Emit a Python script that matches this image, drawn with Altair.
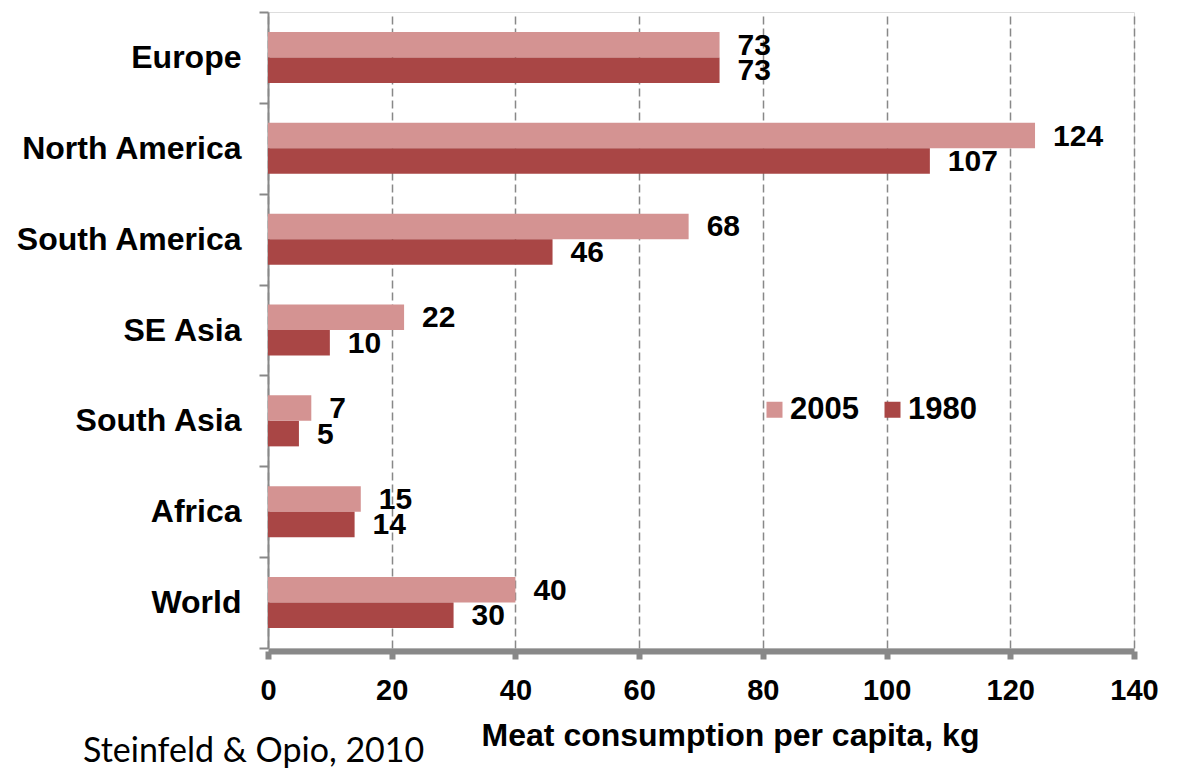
import altair as alt
import pandas as pd

# Meat consumption per capita (kg), by region
regions = ["Europe", "North America", "South America", "SE Asia",
           "South Asia", "Africa", "World"]
kg_2005 = [73, 124, 68, 22, 7, 15, 40]
kg_1980 = [73, 107, 46, 10, 5, 14, 30]
years = ["2005", "1980"]
year_colors = ["#D49392", "#A94645"]
x_ticks = [0, 20, 40, 60, 80, 100, 120, 140]

rows = []
for r, a, b in zip(regions, kg_2005, kg_1980):
    rows.append({"region": r, "year": "2005", "kg": a})
    rows.append({"region": r, "year": "1980", "kg": b})
df = pd.DataFrame(rows)

BOLD = "Liberation Sans"

y_enc = alt.Y(
    "region:N",
    sort=regions,
    scale=alt.Scale(paddingInner=0, paddingOuter=0),
    axis=alt.Axis(
        title=None,
        tickBand="extent",
        domainColor="#888888",
        domainWidth=2,
        tickColor="#888888",
        tickWidth=2,
        tickSize=9,
        labelFont=BOLD,
        labelFontSize=32,
        labelFontWeight="bold",
        labelColor="black",
        labelPadding=18,
        labelLimit=400,
        grid=False,
    ),
)
yoff_enc = alt.YOffset(
    "year:N",
    sort=years,
    scale=alt.Scale(domain=years, paddingInner=0, paddingOuter=0.78),
)
x_enc = alt.X(
    "kg:Q",
    scale=alt.Scale(domain=[0, 140], nice=False),
    axis=alt.Axis(
        values=x_ticks,
        title="Meat consumption per capita, kg",
        titleFont=BOLD,
        titleFontSize=32,
        titleFontWeight="bold",
        titleColor="black",
        titleX=462,
        titleY=94,
        titleAlign="center",
        titleBaseline="alphabetic",
        labelFont=BOLD,
        labelFontSize=29,
        labelFontWeight="bold",
        labelColor="black",
        labelPadding=17,
        labelFlush=False,
        labelOverlap=False,
        domainColor="#888888",
        domainWidth=6,
        tickColor="#888888",
        tickWidth=6,
        tickSize=8,
        offset=3,
        grid=True,
        gridColor="#888888",
        gridDash=[8, 4],
        gridWidth=1.5,
    ),
)

bars = alt.Chart(df).mark_bar(size=25.5, strokeWidth=0).encode(
    y=y_enc,
    yOffset=yoff_enc,
    x=x_enc,
    color=alt.Color(
        "year:N",
        sort=years,
        scale=alt.Scale(domain=years, range=year_colors),
        legend=alt.Legend(
            title=None,
            orient="none",
            direction="horizontal",
            legendX=491,
            legendY=382,
            padding=0,
            symbolType="square",
            symbolSize=256,
            symbolStrokeWidth=0,
            labelFont=BOLD,
            labelFontSize=31,
            labelFontWeight="bold",
            labelColor="black",
            labelOffset=0,
            columnPadding=18,
        ),
    ),
)

labels = alt.Chart(df).mark_text(
    align="left", baseline="middle", dx=18, dy=1,
    font=BOLD, fontSize=30, fontWeight="bold", color="black",
).encode(
    y=alt.Y("region:N", sort=regions),
    yOffset=alt.YOffset("year:N", sort=years),
    x="kg:Q",
    text="kg:Q",
)

source = alt.Chart(pd.DataFrame({"t": ["Steinfeld & Opio, 2010"]})).mark_text(
    align="left", baseline="alphabetic", font="Lato", fontSize=34,
    color="black",
).encode(x=alt.value(-185), y=alt.value(750), text="t:N")

chart = alt.layer(bars, labels, source).properties(
    width=866,
    height=636,
    padding={"left": 268, "top": 12, "right": 44, "bottom": 122},
    autosize=alt.AutoSizeParams(type="none"),
).configure_view(stroke=None).configure(background="white")

chart.save("out.html", embed_options={"renderer": "svg", "actions": False})
